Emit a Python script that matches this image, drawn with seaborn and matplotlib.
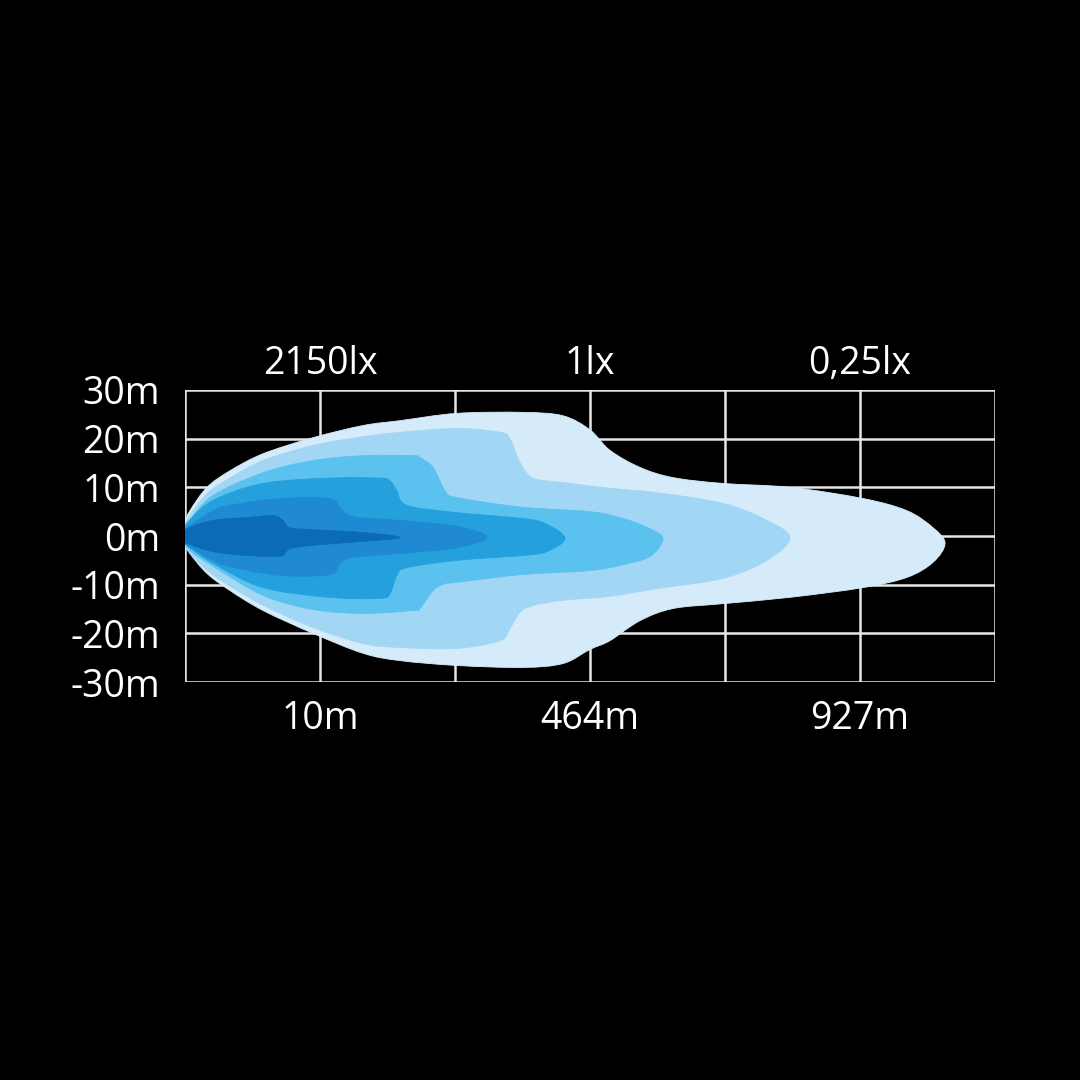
import matplotlib
matplotlib.use("Agg")
import numpy as np
import matplotlib.pyplot as plt
from matplotlib.path import Path
from matplotlib.patches import PathPatch
import seaborn as sns

# Estilo
sns.set_theme(style="white")
plt.rcParams['font.family'] = ['Open Sans', 'DejaVu Sans']

# Eixos: colunas da grade (0..6) e metros laterais
x_ticks = [0, 1, 2, 3, 4, 5, 6]
x_bottom_labels = ['', '10m', '', '464m', '', '927m', '']
x_top_labels = ['', '2150lx', '', '1lx', '', '0,25lx', '']
y_ticks = [30, 20, 10, 0, -10, -20, -30]
y_labels = ['30m', '20m', '10m', '0m', '-10m', '-20m', '-30m']

# Contornos das zonas de iluminação (externa -> interna)
zone1_x = [0, 0.037, 0.163, 0.333, 0.578, 0.948, 1.319, 1.593, 2.015, 2.504, 2.8, 3.0,
           3.148, 3.37, 3.615, 3.985, 4.481, 5.022, 5.348, 5.541, 5.63]
zone1_top = [2.5, 5.2, 10.0, 13.4, 16.9, 20.2, 22.7, 23.7, 25.2, 25.4, 24.7, 21.8,
             17.6, 14.1, 12.0, 10.8, 10.0, 7.7, 5.2, 1.7, -1.5]
zone1_bot = [-1.5, -3.6, -7.7, -11.2, -15.3, -20.0, -24.1, -25.6, -26.6, -27.0, -26.2, -23.3,
             -21.5, -17.4, -14.9, -13.9, -12.6, -10.6, -8.5, -5.4, -1.5]

zone2_x = [0, 0.022, 0.163, 0.333, 0.578, 0.948, 1.319, 1.593, 2.015, 2.333, 2.407, 2.481,
           2.578, 2.8, 3.148, 3.496, 3.985, 4.311, 4.481]
zone2_top = [1.5, 3.6, 8.7, 11.9, 15.5, 18.6, 20.4, 21.3, 22.1, 21.3, 20.0, 15.1,
             11.9, 11.0, 9.8, 8.9, 6.7, 3.2, -0.4]
zone2_bot = [-1.0, -3.0, -7.0, -10.3, -14.2, -18.8, -22.1, -22.9, -23.1, -21.5, -19.0, -15.7,
             -14.3, -13.2, -12.4, -10.8, -8.7, -5.0, -0.4]

zone3_x = [0, 0.037, 0.207, 0.578, 0.948, 1.319, 1.689, 1.741, 1.837, 1.926, 2.015, 2.504,
           3.0, 3.244, 3.444, 3.541]
zone3_top = [0.5, 3.2, 8.3, 13.0, 15.5, 16.5, 16.5, 16.1, 14.1, 9.3, 7.9, 5.9,
             5.0, 3.6, 1.5, -0.6]
zone3_bot = [-0.9, -3.0, -6.2, -12.2, -15.1, -15.9, -15.3, -14.9, -11.2, -9.8, -9.5, -7.9,
             -7.1, -5.9, -4.2, -0.6]

zone4_x = [0, 0.015, 0.207, 0.578, 1.074, 1.444, 1.519, 1.570, 1.644, 2.015, 2.504, 2.681,
           2.815]
zone4_top = [0.3, 2.6, 7.3, 10.8, 11.9, 11.9, 11.3, 9.3, 6.3, 4.8, 3.6, 2.4, -0.5]
zone4_bot = [-0.9, -1.9, -5.6, -10.6, -12.6, -12.8, -11.8, -8.1, -6.5, -5.0, -4.0, -3.2, -0.5]

zone5_x = [0, 0.015, 0.207, 0.333, 0.704, 1.074, 1.148, 1.244, 1.593, 2.015, 2.237]
zone5_top = [0.3, 1.7, 5.2, 6.3, 7.7, 7.7, 5.9, 4.0, 3.2, 2.0, -0.25]
zone5_bot = [-0.9, -1.9, -5.0, -6.3, -8.1, -7.9, -5.6, -4.4, -3.6, -2.4, -0.25]

zone6_x = [0, 0.015, 0.207, 0.459, 0.652, 0.726, 0.778, 0.948, 1.319, 1.593]
zone6_top = [0.1, 1.5, 3.2, 3.8, 4.2, 3.2, 1.7, 1.3, 0.7, -0.3]
zone6_bot = [-0.7, -1.5, -3.2, -4.0, -4.2, -4.0, -2.6, -1.9, -1.1, -0.3]

zones = [
    (zone1_x, zone1_top, zone1_bot, '#d5ebf9'),
    (zone2_x, zone2_top, zone2_bot, '#a1d7f4'),
    (zone3_x, zone3_top, zone3_bot, '#5bc1ef'),
    (zone4_x, zone4_top, zone4_bot, '#24a1dd'),
    (zone5_x, zone5_top, zone5_bot, '#1f8ad2'),
    (zone6_x, zone6_top, zone6_bot, '#0b6bb7'),
]


def zone_path(xs, top, bot):
    # contorno fechado: borda superior ida, inferior volta (ponta única se coincidir)
    pts = list(zip(xs, top))
    lower = list(zip(xs, bot))[::-1]
    if lower[0] == pts[-1]:
        lower = lower[1:]
    pts = np.array(pts + lower, dtype=float)
    n = len(pts)
    verts = [pts[0]]
    codes = [Path.MOVETO]
    # curvas suaves (Catmull-Rom -> Bezier) passando pelos pontos lidos
    for i in range(n):
        p0, p1, p2, p3 = pts[i - 1], pts[i], pts[(i + 1) % n], pts[(i + 2) % n]
        verts += [p1 + (p2 - p0) / 6, p2 - (p3 - p1) / 6, p2]
        codes += [Path.CURVE4] * 3
    return Path(verts, codes)


fig = plt.figure(figsize=(10.8, 10.8), dpi=100, facecolor='black')
ax = fig.add_axes([0.1713, 0.3685, 0.75, 0.2704])
ax.set_facecolor('black')

grid_color = '#e6e6e6'
for y in y_ticks:
    ax.axhline(y, color=grid_color, lw=1.8, zorder=1)
for x in x_ticks:
    ax.axvline(x, color=grid_color, lw=1.8, zorder=1)

for i, (zx, zt, zb, c) in enumerate(zones):
    ax.add_patch(PathPatch(zone_path(zx, zt, zb), facecolor=c, edgecolor=c,
                           lw=0.6, zorder=2 + i))

ax.set_xlim(0, 6)
ax.set_ylim(-30, 30)
for s in ax.spines.values():
    s.set_visible(False)

ax.set_xticks(x_ticks)
ax.set_xticklabels(x_bottom_labels)
ax.set_yticks(y_ticks)
ax.set_yticklabels(y_labels)
ax.tick_params(axis='x', length=0, pad=13, labelsize=27, labelcolor='white')
ax.tick_params(axis='y', length=0, pad=18, labelsize=27, labelcolor='white')

top = ax.secondary_xaxis('top')
top.set_xticks(x_ticks)
top.set_xticklabels(x_top_labels)
top.tick_params(length=0, pad=5, labelsize=27, labelcolor='white')
for s in top.spines.values():
    s.set_visible(False)

plt.savefig('out.png', dpi=100, facecolor='black')
plt.close()
